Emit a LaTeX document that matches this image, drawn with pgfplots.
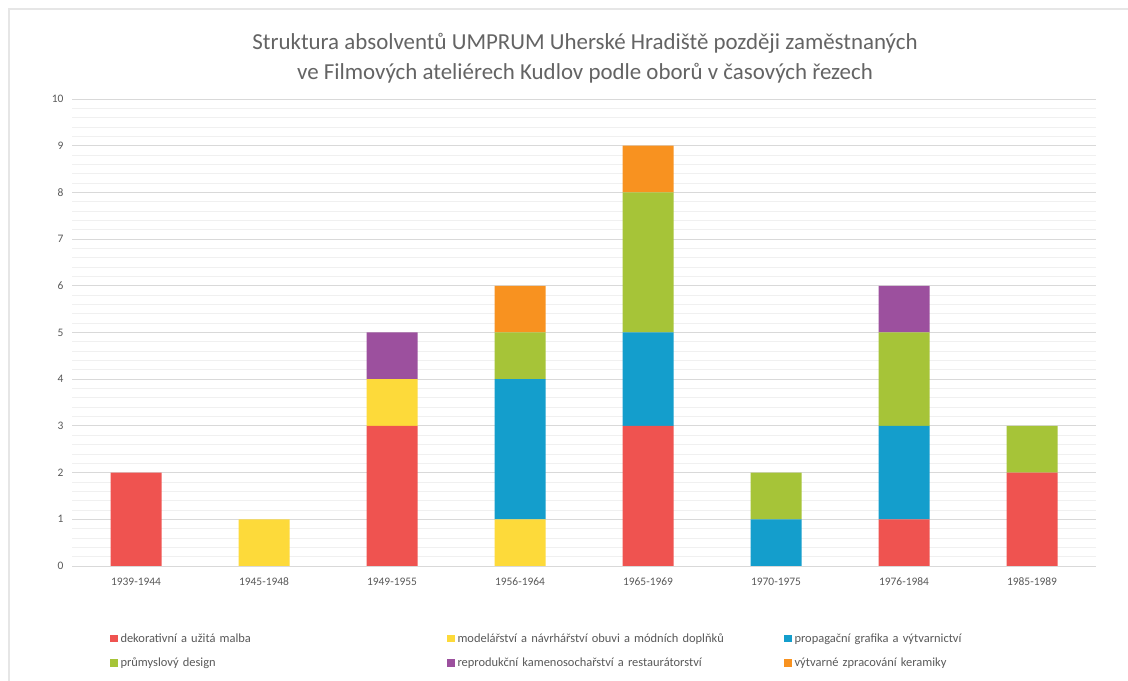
\documentclass[border=0pt]{standalone}
\usepackage{fontspec}
\setmainfont{Carlito}
\usepackage{pgfplots}
\pgfplotsset{compat=1.18}
\definecolor{cRed}{RGB}{239,83,80}
\definecolor{cYel}{RGB}{253,218,58}
\definecolor{cBlu}{RGB}{20,158,204}
\definecolor{cGrn}{RGB}{166,196,56}
\definecolor{cPur}{RGB}{156,80,158}
\definecolor{cOra}{RGB}{248,146,32}
\definecolor{txt}{RGB}{89,89,89}
\definecolor{ttl}{RGB}{100,100,100}
\definecolor{majg}{RGB}{217,217,217}
\definecolor{ming}{RGB}{240,240,240}
\definecolor{frame}{RGB}{230,230,230}
\begin{document}
\begin{tikzpicture}[x=1bp,y=1bp]
\useasboundingbox (0,0) rectangle (1128,681);
\fill[white] (0,0) rectangle (1128,681);
\draw[frame,line width=2bp] (9,0) -- (9,672) -- (1128,672);
\node[ttl,align=center,font=\fontsize{23}{30}\selectfont] at (585,623) {Struktura absolventů UMPRUM Uherské Hradiště později zaměstnaných\\ve Filmových ateliérech Kudlov podle oborů v časových řezech};
\begin{axis}[
  at={(72bp,115bp)}, anchor=south west,
  width=1024bp, height=467bp, scale only axis,
  ybar stacked, bar width=51bp,
  xmin=-0.5, xmax=7.5, ymin=0, ymax=10,
  xtick=data,
  xticklabels={1939-1944,1945-1948,1949-1955,1956-1964,1965-1969,1970-1975,1976-1984,1985-1989},
  ytick={0,1,...,10},
  minor y tick num=4,
  ymajorgrids, yminorgrids,
  major grid style={majg,line width=0.8bp},
  minor grid style={ming,line width=0.8bp},
  axis line style={draw=none},
  tick style={draw=none},
  /pgf/number format/assume math mode=true,
  ticklabel style={txt,font=\fontsize{11.5}{13}\selectfont},
  yticklabel style={xshift=-5bp},
  xticklabel style={anchor=north, yshift=-8bp, text height=8bp, text depth=1bp},
  legend columns=3,
  legend cell align=left,
  legend style={at={(0.034,-0.138)}, anchor=north west, draw=none, fill=none,
    font=\fontsize{12.5}{14}\selectfont, text=txt,
    nodes={text width=323.5bp, align=left, inner xsep=3bp, inner ysep=1bp},
    row sep=12bp},
  legend image code/.code={\fill[#1,draw=none] (0bp,-3.5bp) rectangle (7.5bp,4bp);},
]
\addplot[fill=cRed,draw=none] coordinates {(0,2) (1,0) (2,3) (3,0) (4,3) (5,0) (6,1) (7,2)};
\addplot[fill=cYel,draw=none] coordinates {(0,0) (1,1) (2,1) (3,1) (4,0) (5,0) (6,0) (7,0)};
\addplot[fill=cBlu,draw=none] coordinates {(0,0) (1,0) (2,0) (3,3) (4,2) (5,1) (6,2) (7,0)};
\addplot[fill=cGrn,draw=none] coordinates {(0,0) (1,0) (2,0) (3,1) (4,3) (5,1) (6,2) (7,1)};
\addplot[fill=cPur,draw=none] coordinates {(0,0) (1,0) (2,1) (3,0) (4,0) (5,0) (6,1) (7,0)};
\addplot[fill=cOra,draw=none] coordinates {(0,0) (1,0) (2,0) (3,1) (4,1) (5,0) (6,0) (7,0)};
\legend{dekorativní a užitá malba, modelářství a návrhářství obuvi a módních doplňků, propagační grafika a výtvarnictví, průmyslový design, reprodukční kamenosochařství a restaurátorství, výtvarné zpracování keramiky}
\end{axis}
\end{tikzpicture}
\end{document}
